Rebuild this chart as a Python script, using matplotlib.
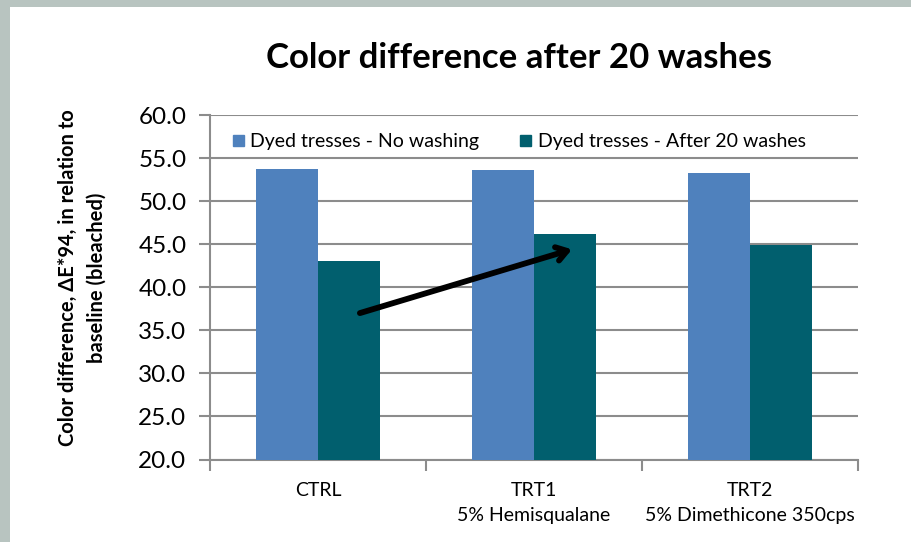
import matplotlib
matplotlib.use("Agg")
import matplotlib.pyplot as plt
import numpy as np
from matplotlib.patches import Patch, Rectangle

categories = ["CTRL", "TRT1\n5% Hemisqualane", "TRT2\n5% Dimethicone 350cps"]
series_names = ["Dyed tresses - No washing", "Dyed tresses - After 20 washes"]
no_washing = [53.7, 53.6, 53.3]
after_washes = [43.1, 46.2, 44.9]
y_ticks = [20.0, 25.0, 30.0, 35.0, 40.0, 45.0, 50.0, 55.0, 60.0]

BLUE = "#4f81bd"
TEAL = "#015f6e"
GRID = "#8c8c8c"

plt.rcParams["font.family"] = ["Lato", "DejaVu Sans"]

W, H = 911, 542
fig = plt.figure(figsize=(W / 100, H / 100), dpi=100)
fig.patch.set_facecolor("#b8c4c0")
# white chart panel inside the grey frame
fig.add_artist(Rectangle((10 / W, 0), 1, 1 - 7 / H, transform=fig.transFigure,
                         facecolor="white", edgecolor="none", zorder=0))

ax = fig.add_axes([210 / W, 1 - 459.5 / H, 648 / W, 344.5 / H])
ax.set_facecolor("white")

x = np.arange(len(categories))
bw = 0.287
ax.bar(x - bw / 2, no_washing, bw, color=BLUE, zorder=3)
ax.bar(x + bw / 2, after_washes, bw, color=TEAL, zorder=3)

ax.set_xlim(-0.5, 2.5)
ax.set_ylim(20, 60)
ax.set_yticks(y_ticks)
ax.set_yticklabels([f"{v:.1f}" for v in y_ticks], fontsize=17.5)
ax.yaxis.grid(True, color=GRID, lw=1.5, zorder=0)
ax.tick_params(axis="y", length=8, width=1.5, color=GRID, pad=9)

ax.set_xticks([-0.5, 0.5, 1.5, 2.5])
ax.set_xticklabels([])
ax.tick_params(axis="x", length=8, width=1.5, color=GRID)
for xi, lab in zip(x, categories):
    ax.text(xi, -22 / 344.5, lab, transform=ax.get_xaxis_transform(), ha="center",
            va="top", fontsize=14, linespacing=1.6)

for side in ["top", "right"]:
    ax.spines[side].set_visible(False)
for side in ["left", "bottom"]:
    ax.spines[side].set_color(GRID)
    ax.spines[side].set_linewidth(1.5)

handles = [Patch(color=BLUE), Patch(color=TEAL)]
ax.legend(handles, series_names, ncol=2, frameon=False, fontsize=14,
          handlelength=0.55, handleheight=0.55, handletextpad=0.35, columnspacing=2.1,
          loc="center left", bbox_to_anchor=(23 / 648, 1 - 27 / 344.5),
          bbox_transform=ax.transAxes, borderaxespad=0, borderpad=0)

fig.text(519 / W, 1 - 58 / H, "Color difference after 20 washes", ha="center",
         va="center", fontsize=25, fontweight="bold")
fig.text(82 / W, 1 - 278 / H,
         "Color difference, \u0394E*94, in relation to\nbaseline (bleached)",
         rotation=90, ha="center", va="center", multialignment="center",
         fontsize=14.5, fontweight="bold", linespacing=1.55)

ax.annotate("", xy=(1.176, 44.4), xytext=(0.194, 37.0),
            arrowprops=dict(arrowstyle="->,head_length=0.75,head_width=0.5",
                            color="black", lw=4.2, shrinkA=0, shrinkB=0),
            zorder=5)

fig.savefig("out.png", dpi=100, facecolor=fig.get_facecolor())
